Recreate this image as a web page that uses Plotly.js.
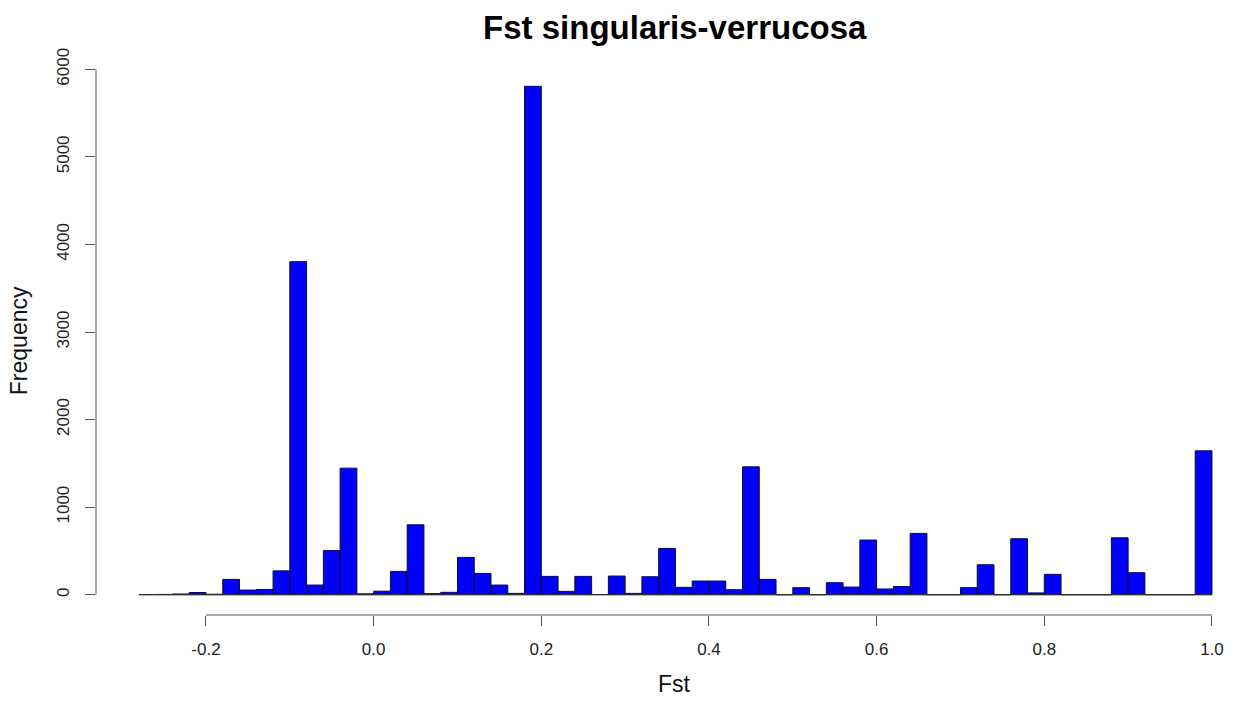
<!DOCTYPE html>
<html>
<head>
<meta charset="utf-8">
<script src="https://cdn.plot.ly/plotly-3.0.1.min.js"></script>
<style>html,body{margin:0;padding:0;background:#fff;}#chart{width:1233px;height:704px;}</style>
</head>
<body>
<div id="chart"></div>
<script>
// Histogram bins: start, width, counts
const binStart = -0.28;
const binWidth = 0.02;
const counts = [
  2, 3, 8, 25, 5, 175, 53, 60, 272, 3803,
  110, 504, 1445, 10, 40, 266, 798, 12, 27, 426,
  243, 110, 15, 5806, 209, 38, 209, 2, 213, 15,
  205, 528, 84, 156, 156, 57, 1460, 175, 0, 80,
  0, 137, 87, 624, 65, 93, 700, 0, 0, 80,
  342, 0, 639, 20, 232, 0, 0, 0, 650, 251,
  0, 0, 0, 1643
];
const xTickVals = [-0.2, 0.0, 0.2, 0.4, 0.6, 0.8, 1.0];
const xTickText = ["-0.2", "0.0", "0.2", "0.4", "0.6", "0.8", "1.0"];
const yTickVals = [0, 1000, 2000, 3000, 4000, 5000, 6000];
const yTickText = ["0", "1000", "2000", "3000", "4000", "5000", "6000"];

const centers = counts.map((_, i) => binStart + (i + 0.5) * binWidth);
const binEnd = binStart + counts.length * binWidth;

const font = "Liberation Sans, Arial, Helvetica, sans-serif";

const traces = [
  {
    type: "scatter", mode: "lines",
    x: [binStart, binEnd], y: [0, 0],
    line: {color: "#333333", width: 1},
    hoverinfo: "skip", showlegend: false
  },
  {
    type: "bar",
    x: centers, y: counts,
    width: counts.map(() => binWidth),
    marker: {color: "#0000ff", line: {color: "#111111", width: 1}},
    showlegend: false
  }
];

const layout = {
  width: 1233, height: 704,
  margin: {l: 96, r: 0, t: 66, b: 89, pad: 0},
  paper_bgcolor: "#ffffff", plot_bgcolor: "#ffffff",
  font: {family: font, color: "#111111"},
  bargap: 0,
  title: {
    text: "<b>Fst singularis-verrucosa</b>",
    font: {family: font, size: 33, color: "#000000"},
    x: 0.509, xref: "paper", xanchor: "center",
    y: 0.961, yref: "container", yanchor: "middle"
  },
  xaxis: {
    range: [-0.3312, 1.0251],
    showgrid: false, zeroline: false, showline: false,
    tickmode: "array", tickvals: xTickVals, ticktext: xTickText,
    ticks: "outside", ticklen: 10, tickwidth: 1, tickcolor: "#555555",
    ticklabelstandoff: 9,
    tickfont: {family: font, size: 17, color: "#222222"}
  },
  yaxis: {
    range: [-232, 6038],
    showgrid: false, zeroline: false, showline: false,
    tickmode: "array", tickvals: yTickVals, ticktext: yTickText,
    ticks: "outside", ticklen: 10, tickwidth: 1, tickcolor: "#555555",
    tickangle: -90, ticklabelstandoff: 9,
    tickfont: {family: font, size: 17, color: "#222222"}
  },
  shapes: [
    {type: "line", xref: "x", yref: "paper",
     x0: xTickVals[0], x1: xTickVals[xTickVals.length - 1], y0: 0, y1: 0,
     line: {color: "#555555", width: 1}},
    {type: "line", xref: "paper", yref: "y",
     x0: 0, x1: 0, y0: yTickVals[0], y1: yTickVals[yTickVals.length - 1],
     line: {color: "#555555", width: 1}}
  ],
  annotations: [
    {text: "Fst", xref: "paper", yref: "paper", x: 0.509, y: -0.125,
     xanchor: "center", yanchor: "middle", showarrow: false,
     font: {family: font, size: 23, color: "#111111"}},
    {text: "Frequency", xref: "paper", yref: "paper", x: -0.068, y: 0.5,
     xanchor: "center", yanchor: "middle", showarrow: false, textangle: -90,
     font: {family: font, size: 23, color: "#111111"}}
  ]
};

Plotly.newPlot("chart", traces, layout, {displayModeBar: false, staticPlot: true});
</script>
</body>
</html>
